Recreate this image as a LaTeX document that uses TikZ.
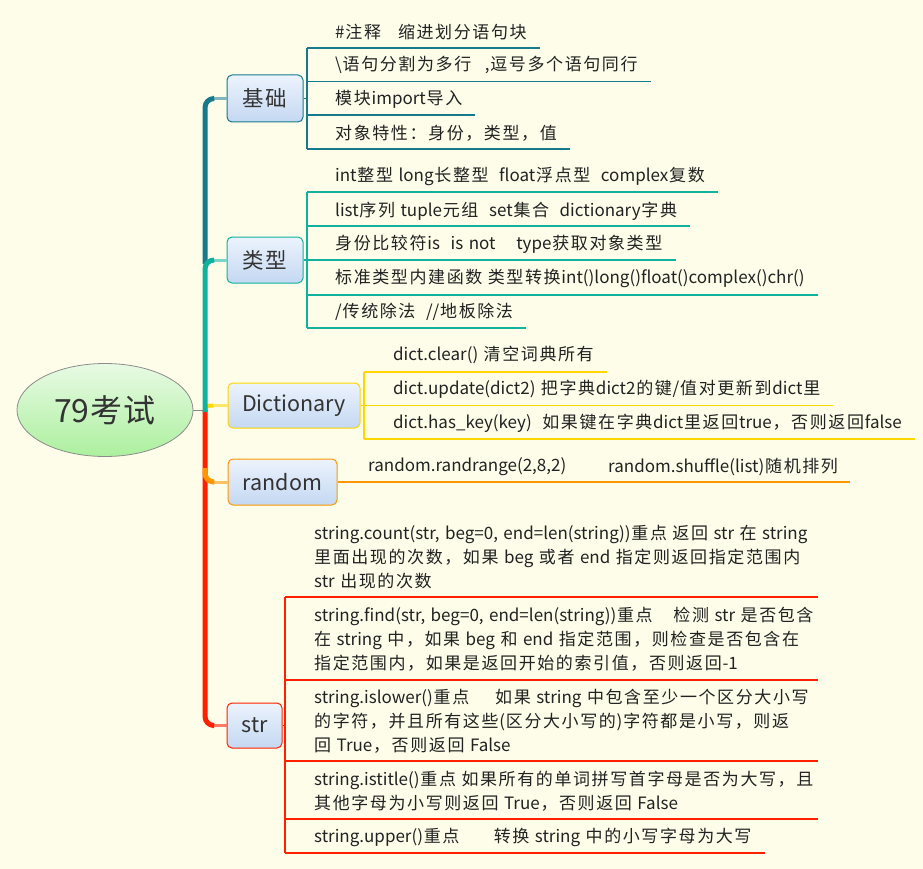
\documentclass[tikz,border=0pt]{standalone}
\usepackage{fontspec}
\setmainfont{Noto Sans CJK SC}
\usetikzlibrary{shapes.geometric,calc}

% a little extra tracking around CJK ideographs and full-width punctuation
\XeTeXinterchartokenstate=1
\newXeTeXintercharclass\cjkcls
\newcount\cjkcode
\def\cjkrange#1#2{\cjkcode=#1\relax
  \loop\XeTeXcharclass\cjkcode=\cjkcls\relax
  \advance\cjkcode by 1\relax
  \ifnum\cjkcode<#2\repeat}
\cjkrange{"4E00}{"A000}
\cjkrange{"3000}{"3040}
\cjkrange{"FF00}{"FFF0}
\XeTeXinterchartoks\cjkcls\cjkcls={\hskip 1.6pt\relax}
\XeTeXinterchartoks\cjkcls 0={\hskip 0.8pt\relax}
\XeTeXinterchartoks 0\cjkcls={\hskip 0.8pt\relax}

% wider word spaces for the leaf texts
\newcommand\leafspacing{\spaceskip 5.5pt plus 1pt minus 1pt\relax}

\definecolor{paper}{RGB}{253,253,233}
\definecolor{inktext}{RGB}{34,34,34}
\definecolor{boxtext}{RGB}{51,51,51}
\definecolor{boxtop}{RGB}{236,243,253}
\definecolor{boxbot}{RGB}{196,216,242}
\definecolor{roottop}{RGB}{232,250,228}
\definecolor{rootbot}{RGB}{172,240,158}
\definecolor{rootedge}{RGB}{140,140,140}
\definecolor{basec}{RGB}{22,122,140}
\definecolor{typec}{RGB}{16,178,158}
\definecolor{dictc}{RGB}{255,214,0}
\definecolor{randc}{RGB}{255,152,0}
\definecolor{strc}{RGB}{255,32,0}

\tikzset{
  rootnode/.style={ellipse, minimum width=176pt, minimum height=93pt, inner sep=0pt,
    draw=rootedge, line width=0.8pt, top color=roottop, bottom color=rootbot,
    text=boxtext, font=\fontsize{32}{32}\selectfont},
  topicbox/.style={draw=#1, rounded corners=5pt, line width=1pt, inner sep=0pt,
    top color=boxtop, bottom color=boxbot, text=boxtext,
    font=\fontsize{21.5}{21.5}\selectfont},
  leaf/.style={anchor=west, inner sep=0pt, align=left, text=inktext,
    font=\fontsize{17}{24}\selectfont\leafspacing},
  trunk/.style={draw=#1, line width=5pt, rounded corners=9pt},
  twig/.style={draw=#1, line width=3pt},
  rib/.style={draw=#1, line width=1.2pt},
}

\begin{document}
\begin{tikzpicture}[x=1pt,y=-1pt]
\fill[paper] (0,0) rectangle (923,869);
\useasboundingbox (0,0) rectangle (923,869);

% central topic and main topics
\node[rootnode] (root) at (105,410) {79考试};
\node[topicbox=basec, minimum width=76pt, minimum height=47pt] (jc) at (265,98.5) {基础};
\node[topicbox=typec, minimum width=76pt, minimum height=46pt] (lx) at (265,260) {类型};
\node[topicbox=dictc, minimum width=132pt, minimum height=45pt] (dc) at (294,405.5) {Dictionary};
\node[topicbox=randc, minimum width=109pt, minimum height=46pt] (rc) at (282.5,482) {random};
\node[topicbox=strc, minimum width=55pt, minimum height=45pt] (sc) at (254.5,725.5) {str};

% trunk
\coordinate (j) at (205,410);
\coordinate (jA) at (205,264);
\coordinate (jR) at (205,468);
\draw[rootedge, line width=1pt] (root.east) -- (j);

\draw[twig=strc!60] ($(sc.west)+(-14,0)$) -- (sc.west);
\draw[trunk=strc] (j) |- ($(sc.west)+(-14,0)$);
\draw[twig=randc!60] ($(rc.west)+(-14,0)$) -- (rc.west);
\draw[trunk=randc] (jR) |- ($(rc.west)+(-14,0)$);
\draw[twig=dictc!60] ($(dc.west)+(-14,0)$) -- (dc.west);
\draw[dictc, line width=4pt] ([yshift=-1pt]j) .. controls +(0,-5) and +(-6,0) .. ($(dc.west)+(-14,0)$);
\draw[twig=basec!55] ($(jc.west)+(-14,0)$) -- (jc.west);
\draw[trunk=basec] (jA) |- ($(jc.west)+(-14,0)$);
\draw[twig=typec!55] ($(lx.west)+(-14,0)$) -- (lx.west);
\draw[trunk=typec] ([yshift=-2pt]j) |- ($(lx.west)+(-14,0)$);

% ---- 基础 ----
\node[leaf] (a1) at (335,32) {\#注释\hspace{1em}缩进划分语句块};
\node[leaf] (a2) at (335,65) {\textbackslash 语句分割为多行\hspace{0.8em},逗号多个语句同行};
\node[leaf] (a3) at (335,99) {模块import导入};
\node[leaf] (a4) at (335,133) {对象特性：身份，类型，值};
\coordinate (ua1) at (307,48);
\coordinate (ua2) at (307,81.5);
\coordinate (ua3) at (307,115);
\coordinate (ua4) at (307,149);
\draw[rib=basec] (jc.east) -- (jc.east -| ua1);
\draw[rib=basec] (ua1) -- (ua4);
\foreach \k in {1,...,4}{
  \draw[rib=basec] (ua\k) -- ($(ua\k -| a\k.east)+(13,0)$);
}

% ---- 类型 ----
\node[leaf] (b1) at (335,176) {int整型 long长整型\hspace{0.3em} float浮点型\hspace{0.3em} complex复数};
\node[leaf] (b2) at (335,211) {list序列 tuple元组\hspace{0.3em} set集合\hspace{0.3em} dictionary字典};
\node[leaf] (b3) at (335,244) {身份比较符is\hspace{0.3em} is not\hspace{0.9em} type获取对象类型};
\node[leaf] (b4) at (335,278) {标准类型内建函数 类型转换int()long()float()complex()chr()};
\node[leaf] (b5) at (335,312) {/传统除法\hspace{0.3em} //地板除法};
\coordinate (ub1) at (307,192);
\coordinate (ub2) at (307,226);
\coordinate (ub3) at (307,260);
\coordinate (ub4) at (307,295);
\coordinate (ub5) at (307,328);
\draw[rib=typec] (lx.east) -- (lx.east -| ub1);
\draw[rib=typec] (ub1) -- (ub5);
\foreach \k in {1,...,5}{
  \draw[rib=typec] (ub\k) -- ($(ub\k -| b\k.east)+(13,0)$);
}

% ---- Dictionary ----
\node[leaf] (c1) at (393,355) {dict.clear() 清空词典所有};
\node[leaf] (c2) at (393,389) {dict.update(dict2) 把字典dict2的键/值对更新到dict里};
\node[leaf] (c3) at (393,423) {dict.has\_key(key)\hspace{0.3em} 如果键在字典dict里返回true，否则返回false};
\coordinate (uc1) at (364,372);
\coordinate (uc2) at (364,405.5);
\coordinate (uc3) at (364,439);
\draw[rib=dictc] (dc.east) -- (dc.east -| uc1);
\draw[rib=dictc] (uc1) -- (uc3);
\foreach \k in {1,...,3}{
  \draw[rib=dictc] (uc\k) -- ($(uc\k -| c\k.east)+(13,0)$);
}

% ---- random ----
\node[leaf] (d1) at (368,467) {random.randrange(2,8,2)};
\node[leaf] (d2) at (608,467) {random.shuffle(list)随机排列};
\draw[rib=randc] (rc.east) -- ($(rc.east -| d2.east)+(12,0)$);

% ---- str ----
\node[leaf] (e1) at (314,557) {string.count(str, beg=0, end=len(string))重点 返回 str 在 string\\
  里面出现的次数，如果 beg 或者 end 指定则返回指定范围内\\
  str 出现的次数};
\node[leaf] (e2) at (314,639) {string.find(str, beg=0, end=len(string))重点\hspace{0.9em} 检测 str 是否包含\\
  在 string 中，如果 beg 和 end 指定范围，则检查是否包含在\\
  指定范围内，如果是返回开始的索引值，否则返回-1};
\node[leaf] (e3) at (314,721) {string.islower()重点\hspace{1.2em} 如果 string 中包含至少一个区分大小写\\
  的字符，并且所有这些(区分大小写的)字符都是小写，则返\\
  回 True，否则返回 False};
\node[leaf] (e4) at (314,791) {string.istitle()重点 如果所有的单词拼写首字母是否为大写，且\\
  其他字母为小写则返回 True，否则返回 False};
\node[leaf] (e5) at (314,837) {string.upper()重点\hspace{1.7em} 转换 string 中的小写字母为大写};
\coordinate (ue1) at (285,597);
\coordinate (ue2) at (285,680);
\coordinate (ue3) at (285,761);
\coordinate (ue4) at (285,819);
\coordinate (ue5) at (285,853);
\draw[rib=strc] (sc.east) -- (sc.east -| ue1);
\draw[rib=strc] (ue1) -- (ue5);
\foreach \k in {1,...,4}{
  \draw[rib=strc] (ue\k) -- (818,0 |- ue\k);
}
\draw[rib=strc] (ue5) -- ($(ue5 -| e5.east)+(13,0)$);
\end{tikzpicture}
\end{document}
